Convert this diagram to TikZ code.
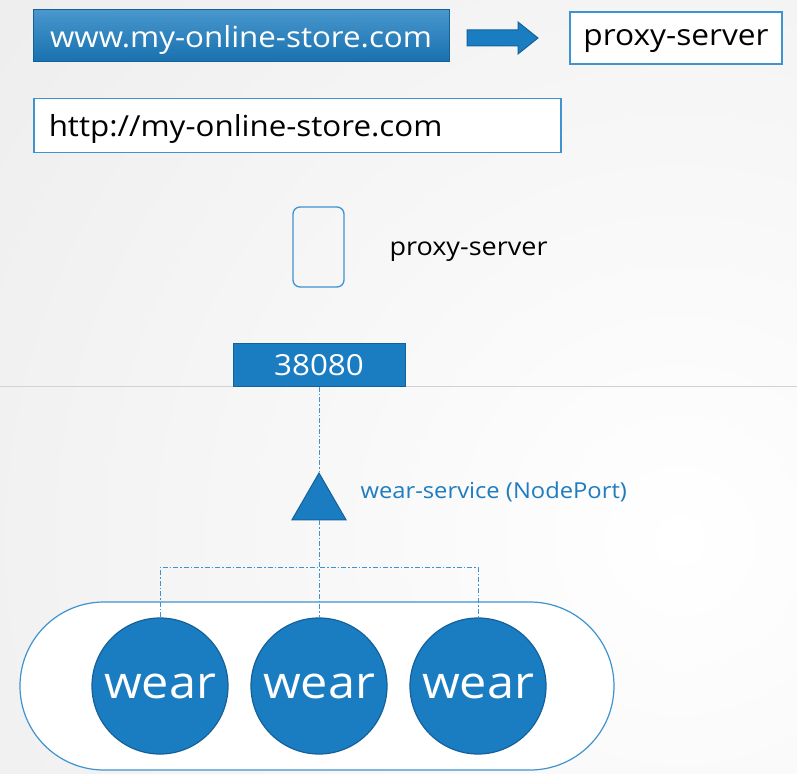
\documentclass[tikz,border=0pt]{standalone}
\usepackage{fontspec}
\setmainfont{Open Sans}[FakeStretch=1.08]
\usetikzlibrary{positioning,shapes.geometric}

\definecolor{bgGray}{HTML}{EDEDED}
\definecolor{kBlue}{HTML}{1B7DC1}
\definecolor{kDark}{HTML}{14619A}
\definecolor{kLine}{HTML}{3F93D0}
\definecolor{kText}{HTML}{1E7CC0}

\tikzset{
  urlbox/.style={draw=kLine, line width=1.5pt, fill=white, inner sep=0pt, text depth=0pt, minimum height=54pt, font=\fontsize{29}{34}\selectfont, text=black},
  bluebox/.style={draw=kDark, line width=1pt, fill=kBlue, inner sep=0pt, text depth=0pt, text=white},
  pod/.style={circle, draw=kDark, line width=1.2pt, fill=kBlue, minimum size=136pt, inner sep=0pt, text depth=0pt, text=white, font=\fontsize{45}{50}\selectfont},
  dashdot/.style={kLine, line width=1pt, dash pattern=on 5pt off 2pt on 1.5pt off 2pt}
}

\begin{document}
\begin{tikzpicture}[x=1pt,y=-1pt]
  \useasboundingbox (0,0) rectangle (797,773);
  % background
  \fill[bgGray] (0,0) rectangle (797,773);
  \begin{scope}
    \clip (0,0) rectangle (797,773);
    \shade[inner color=white, outer color=bgGray] (680,540) circle (900);
  \end{scope}
  \draw[gray!35, line width=1pt] (0,386) -- (797,386);

  % urls
  \node[bluebox, top color=kBlue!80!white, bottom color=kBlue!90!black, minimum width=416pt, minimum height=52pt, font=\fontsize{29}{34}\selectfont] (www) at (241,36) {www.my-online-store.com};
  \node[urlbox, minimum width=212pt, minimum height=52pt, font=\fontsize{29.3}{34}\selectfont] (proxy) at (676,38) {proxy-server};
  \node[urlbox, minimum width=527pt, anchor=west, text width=497pt, align=left] (http) at (33,125.5) {http://my-online-store.com};
  \coordinate (arr) at (467,38);
  \filldraw[fill=kBlue, draw=kDark, line width=1pt] (arr) ++(0,-8) -- ++(51,0) -- ++(0,-8) -- ++(20,16) -- ++(-20,16) -- ++(0,-8) -- ++(-51,0) -- cycle;

  % proxy pod
  \node[draw=kLine, line width=1.3pt, rounded corners=7pt, minimum width=51pt, minimum height=80pt] (srv) at (318.5,247) {};
  \node[anchor=west, text depth=0pt, font=\fontsize{25}{30}\selectfont] (srvlbl) at (386,249) {proxy-server};

  % node port and service
  \node[bluebox, minimum width=172pt, minimum height=43pt, font=\fontsize{29}{34}\selectfont] (port) at (319,364.5) {38080};
  \node[regular polygon, regular polygon sides=3, draw=kDark, line width=1pt, fill=kBlue, minimum size=62.4pt, inner sep=0pt] (svc) at (319,504.2) {};
  \node[anchor=west, text=kText, text depth=0pt, font=\fontsize{22}{26}\selectfont] (svclbl) at (357,490) {wear-service (NodePort)};

  % pods
  \node[draw=kLine, line width=1.2pt, fill=white, rounded corners=84pt, minimum width=594pt, minimum height=168pt] (pods) at (317,686) {};
  \node[pod] (w1) at (160,686) {wear};
  \node[pod] (w2) at (319,686) {wear};
  \node[pod] (w3) at (478,686) {wear};

  \draw[dashdot] (port.south) -- (svc.north);
  \draw[dashdot] (svc.south) -- (w2.north);
  \draw[dashdot] (w1.north) -- ++(0,-50) -| (w3.north);
\end{tikzpicture}
\end{document}
